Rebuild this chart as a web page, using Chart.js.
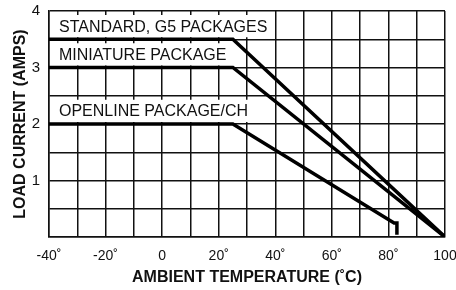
<!DOCTYPE html>
<html>
<head>
<meta charset="utf-8">
<script src="https://cdn.jsdelivr.net/npm/chart.js@4"></script>
<style>
  html, body { margin: 0; padding: 0; background: #fff; }
  #wrap { width: 456px; height: 290px; }
</style>
</head>
<body>
<div id="wrap"><canvas id="derating"></canvas></div>
<script>
// derating curves
const seriesNames = ['STANDARD, G5 PACKAGES', 'MINIATURE PACKAGE', 'OPENLINE PACKAGE/CH'];
const tempStandard = [-40, 25, 100];
const ampsStandard = [3.5, 3.5, 0];
const tempMiniature = [-40, 25, 100];
const ampsMiniature = [3.0, 3.0, 0];
const tempOpenline = [-40, 25, 82, 83, 83];
const ampsOpenline = [2.0, 2.0, 0.25, 0.25, 0.04];
const xTickLabels = { '-40': '-40˚', '-20': '-20˚', '0': '0', '20': '20˚', '40': '40˚', '60': '60˚', '80': '80˚', '100': '100' };
const yTickLabels = { '1': '1', '2': '2', '3': '3', '4': '4' };

const FONT = 'Liberation Sans, Arial, Helvetica, sans-serif';

function toPoints(xs, ys) {
  return xs.map((x, i) => ({ x: x, y: ys[i] }));
}

const curves = [
  { name: seriesNames[0], level: ampsStandard[0], data: toPoints(tempStandard, ampsStandard) },
  { name: seriesNames[1], level: ampsMiniature[0], data: toPoints(tempMiniature, ampsMiniature) },
  { name: seriesNames[2], level: ampsOpenline[0], data: toPoints(tempOpenline, ampsOpenline) }
];

// white label boxes sitting on top of each flat part of the curves
const labelBoxes = {
  id: 'labelBoxes',
  beforeDatasetsDraw(chart) {
    const ctx = chart.ctx;
    const xs = chart.scales.x;
    const ys = chart.scales.y;
    ctx.save();
    ctx.font = '16px ' + FONT;
    curves.forEach(c => {
      const left = xs.left + 2;
      const textX = xs.left + 10;
      const top = ys.getPixelForValue(c.level + 0.5) + 4;
      const bottom = ys.getPixelForValue(c.level) - 2;
      const w = ctx.measureText(c.name).width;
      ctx.fillStyle = '#fff';
      ctx.fillRect(left, top, textX + w + 3 - left, bottom - top);
      ctx.fillStyle = '#111';
      ctx.textBaseline = 'middle';
      ctx.fillText(c.name, textX, (top + bottom) / 2 + 1);
    });
    ctx.restore();
  }
};

new Chart(document.getElementById('derating'), {
  type: 'line',
  data: {
    datasets: curves.map(c => ({
      label: c.name,
      data: c.data,
      borderColor: '#000',
      borderWidth: 3.5,
      pointRadius: 0,
      fill: false,
      tension: 0
    }))
  },
  options: {
    responsive: true,
    maintainAspectRatio: false,
    animation: false,
    layout: { padding: { top: 11, right: 11, left: 0, bottom: 0 } },
    scales: {
      x: {
        type: 'linear',
        min: -40,
        max: 100,
        afterFit(scale) {
          scale.height = 53;
          scale.paddingLeft = 0;
          scale.paddingRight = 0;
        },
        ticks: {
          stepSize: 10,
          autoSkip: false,
          maxRotation: 0,
          padding: 11,
          color: '#111',
          font: { family: FONT, size: 14 },
          callback: v => xTickLabels[String(v)] || ''
        },
        grid: { color: '#111', lineWidth: 1.5, drawTicks: false },
        border: { color: '#111', width: 1.5 },
        title: {
          display: true,
          text: 'AMBIENT TEMPERATURE (˚C)',
          color: '#111',
          font: { family: FONT, size: 16, weight: 'bold' },
          padding: { top: 0, bottom: 3 }
        }
      },
      y: {
        min: 0,
        max: 4,
        afterFit(scale) {
          scale.width = 49;
          scale.paddingTop = 0;
          scale.paddingBottom = 0;
        },
        ticks: {
          stepSize: 0.5,
          autoSkip: false,
          padding: 9,
          color: '#111',
          font: { family: FONT, size: 15 },
          callback: v => yTickLabels[String(v)] || ''
        },
        grid: { color: '#111', lineWidth: 1.5, drawTicks: false },
        border: { color: '#111', width: 1.5 },
        title: {
          display: true,
          text: 'LOAD CURRENT (AMPS)',
          color: '#111',
          font: { family: FONT, size: 16, weight: 'bold' },
          padding: { top: 11, bottom: 0 }
        }
      }
    },
    plugins: {
      legend: { display: false },
      tooltip: { enabled: false }
    }
  },
  plugins: [labelBoxes]
});
</script>
</body>
</html>
